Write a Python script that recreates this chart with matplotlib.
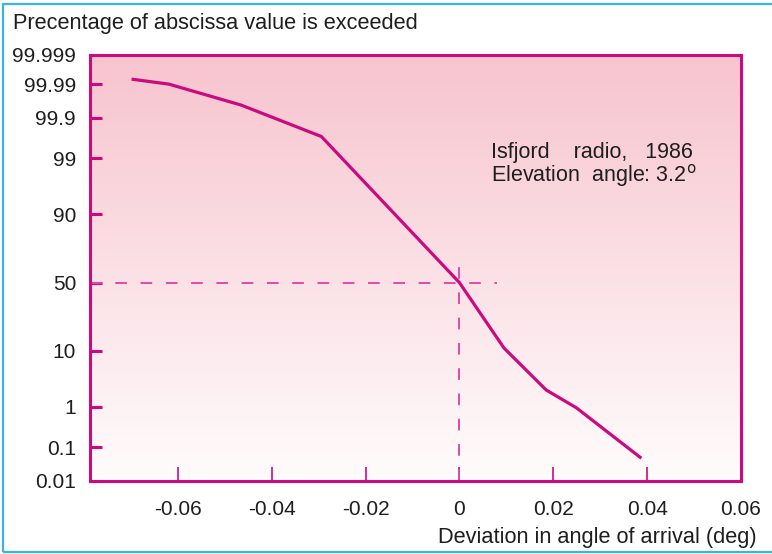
import numpy as np
import matplotlib
matplotlib.use("Agg")
import matplotlib.pyplot as plt
from matplotlib.patches import Rectangle
from matplotlib.colors import LinearSegmentedColormap
from statistics import NormalDist

# Measured distribution of angle-of-arrival deviation
deviation_deg = [-0.0695, -0.0619, -0.0465, -0.0294, 0.0, 0.0095, 0.0185, 0.0249, 0.0385]
percent_exceeded = [99.993, 99.990, 99.956, 99.69, 50.0, 11.0, 2.2, 0.95, 0.053]

x_ticks = [-0.06, -0.04, -0.02, 0.0, 0.02, 0.04, 0.06]
x_tick_labels = ["-0.06", "-0.04", "-0.02", "0", "0.02", "0.04", "0.06"]
y_ticks = [0.01, 0.1, 1, 10, 50, 90, 99, 99.9, 99.99, 99.999]
y_tick_labels = ["0.01", "0.1", "1", "10", "50", "90", "99", "99.9", "99.99", "99.999"]

MAGENTA = "#CC0A80"
DASH = "#E04AA4"
TEXT = "#1E1E1E"
FS = 15

_nd = NormalDist()
_ppf = np.vectorize(lambda p: _nd.inv_cdf(min(max(p / 100.0, 1e-12), 1 - 1e-12)), otypes=[float])
_cdf = np.vectorize(lambda z: _nd.cdf(z) * 100.0, otypes=[float])

plt.rcParams["font.family"] = ["Liberation Sans", "DejaVu Sans"]

W, H = 772, 554
fig = plt.figure(figsize=(W / 100, H / 100), dpi=100)
fig.patch.set_facecolor("white")

# light blue frame around the figure
fig.add_artist(Rectangle((3.5 / W, 1 - 551.5 / H), 1.2, (551.5 - 3.5) / H,
                         transform=fig.transFigure, fill=False,
                         edgecolor="#3AB4E6", linewidth=1.6))

ax = fig.add_axes([90 / W, 1 - 481 / H, (741 - 90) / W, (481 - 55) / H])
ax.set_yscale("function", functions=(_ppf, _cdf))
ax.set_xlim(-0.0787, 0.06)
ax.set_ylim(0.01, 99.999)

# vertical pink gradient inside the plotting area
cmap = LinearSegmentedColormap.from_list("pinkfade", ["#FFFCFC", "#F7C4CE"])
grad = np.linspace(0, 1, 256).reshape(-1, 1)
ax.imshow(grad, cmap=cmap, aspect="auto", extent=[0, 1, 0, 1],
          transform=ax.transAxes, origin="lower", zorder=0, interpolation="bicubic")

# median reference lines
ax.plot([-0.0787, 0.008], [50, 50], color=DASH, lw=1.4, dashes=(6, 7), zorder=2)
ax.plot([0, 0], [0.01, 66], color=DASH, lw=1.4, dashes=(6, 7), zorder=2)

ax.plot(deviation_deg, percent_exceeded, color=MAGENTA, lw=2.3,
        solid_joinstyle="miter", zorder=3)

for s in ax.spines.values():
    s.set_color(MAGENTA)
    s.set_linewidth(2.2)

ax.set_xticks(x_ticks)
ax.set_xticklabels(x_tick_labels)
ax.set_yticks(y_ticks)
ax.set_yticklabels(y_tick_labels)
ax.yaxis.set_minor_locator(matplotlib.ticker.NullLocator())
ax.xaxis.set_minor_locator(matplotlib.ticker.NullLocator())
ax.tick_params(axis="x", direction="in", length=10, width=1.2, color=MAGENTA,
               labelsize=FS, labelcolor=TEXT, pad=14)
ax.tick_params(axis="y", direction="in", length=8.5, width=2.2, color=MAGENTA,
               labelsize=FS, labelcolor=TEXT, pad=10)

fig.text(13 / W, 1 - 24 / H, "Precentage of abscissa value is exceeded",
         fontsize=15.7, color=TEXT, ha="left", va="center")
fig.text(757 / W, 1 - 537 / H, "Deviation in angle of arrival (deg)",
         fontsize=15.7, color=TEXT, ha="right", va="center")

ax.text(0.616, 0.772, "Isfjord    radio,   1986", fontsize=15.5, color=TEXT,
        ha="left", va="center", zorder=4, transform=ax.transAxes)
ax.text(0.616, 0.716, "Elevation  angle: 3.2$^{\\mathrm{o}}$", fontsize=15.5, color=TEXT,
        ha="left", va="center", zorder=4, transform=ax.transAxes)

fig.savefig("out.png", dpi=100)
